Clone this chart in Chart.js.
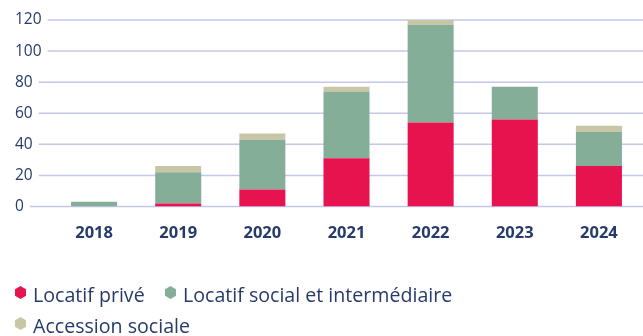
<!DOCTYPE html>
<html>
<head>
<meta charset="utf-8">
<script src="https://cdn.jsdelivr.net/npm/chart.js@4/dist/chart.umd.min.js"></script>
<style>
  html, body { margin: 0; padding: 0; background: #ffffff; }
  #wrap { position: relative; width: 643px; height: 336px; overflow: hidden; }
  #legend { position: absolute; left: 0; top: 0; width: 643px; height: 336px; pointer-events: none;
            font-family: "Open Sans", sans-serif; font-size: 19.6px; color: #263a6b; }
  .lg-text { position: absolute; white-space: nowrap; line-height: 19px; }
  .lg-hex { position: absolute; width: 11px; height: 13px;
            clip-path: polygon(50% 0, 100% 25%, 100% 75%, 50% 100%, 0 75%, 0 25%); }
</style>
</head>
<body>
<div id="wrap">
  <canvas id="chart" width="643" height="336"></canvas>
  <div id="legend"></div>
</div>
<script>
// Logements par année et par type de financement
const years = ['2018', '2019', '2020', '2021', '2022', '2023', '2024'];
const locatifPrive = [0, 2, 11, 31, 54, 56, 26];
const locatifSocial = [3, 20, 32, 43, 63, 21, 22];
const accessionSociale = [0, 4, 4, 3, 3, 0, 4];
const yTickValues = [0, 20, 40, 60, 80, 100, 120];

const seriesLabels = ['Locatif privé', 'Locatif social et intermédiaire', 'Accession sociale'];
const seriesColors = ['#e6134f', '#85ae98', '#c9c6a7'];

const TEXT = '#263a6b';
const GRID = '#c4c7e8';
const TICK_FONT = { family: '"Open Sans", sans-serif', size: 15.5, weight: 'normal' };

// Horizontal guides that start just after each y label and run to the right edge
const guideLines = {
  id: 'guideLines',
  beforeDatasetsDraw(chart) {
    const { ctx, scales: { y } } = chart;
    ctx.save();
    ctx.font = `${TICK_FONT.weight} ${TICK_FONT.size}px ${TICK_FONT.family}`;
    ctx.strokeStyle = GRID;
    ctx.lineWidth = 1.5;
    y.ticks.forEach(t => {
      const py = y.getPixelForValue(t.value);
      const w = ctx.measureText(String(t.label)).width;
      ctx.beginPath();
      ctx.moveTo(y.left + w + 6, py);
      ctx.lineTo(chart.width, py);
      ctx.stroke();
    });
    ctx.restore();
  }
};

const datasets = [locatifPrive, locatifSocial, accessionSociale].map((data, i) => ({
  label: seriesLabels[i],
  data,
  backgroundColor: seriesColors[i],
  borderWidth: 0,
  categoryPercentage: 1,
  barPercentage: 0.547
}));

new Chart(document.getElementById('chart'), {
  type: 'bar',
  data: { labels: years, datasets },
  options: {
    responsive: false,
    animation: false,
    devicePixelRatio: 1,
    layout: { padding: { left: 15, right: 2, top: 20, bottom: 0 } },
    plugins: { legend: { display: false }, tooltip: { enabled: false } },
    scales: {
      x: {
        stacked: true,
        grid: { display: false, drawTicks: false },
        border: { display: false },
        ticks: { color: TEXT, padding: 17, font: { family: '"Open Sans", sans-serif', size: 16.5, weight: 'bold' } },
        afterFit(scale) { scale.height = 129.5; }
      },
      y: {
        stacked: true,
        min: 0,
        max: 120,
        afterBuildTicks(scale) { scale.ticks = yTickValues.map(v => ({ value: v })); },
        grid: { display: false, drawTicks: false },
        border: { display: false },
        ticks: { color: TEXT, padding: 0, crossAlign: 'far', font: TICK_FONT },
        afterFit(scale) { scale.width = 37; }
      }
    }
  },
  plugins: [guideLines]
});

// Legend drawn as HTML: two items on the first row, one on the second
const legendLayout = [
  { hexX: 15, textX: 33, top: 285 },
  { hexX: 165, textX: 183, top: 285 },
  { hexX: 15, textX: 33, top: 316 }
];
const legend = document.getElementById('legend');
seriesLabels.forEach((label, i) => {
  const pos = legendLayout[i];
  const hex = document.createElement('div');
  hex.className = 'lg-hex';
  hex.style.left = pos.hexX + 'px';
  hex.style.top = (pos.top + 1) + 'px';
  hex.style.background = seriesColors[i];
  legend.appendChild(hex);
  const txt = document.createElement('div');
  txt.className = 'lg-text';
  txt.style.left = pos.textX + 'px';
  txt.style.top = pos.top + 'px';
  txt.textContent = label;
  legend.appendChild(txt);
});
</script>
</body>
</html>
